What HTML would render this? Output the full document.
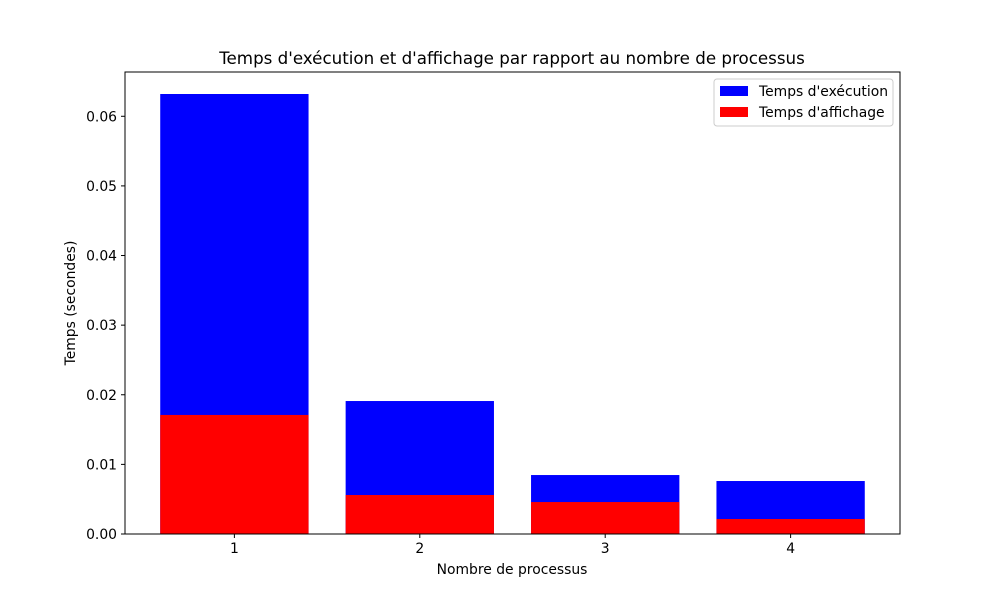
<!DOCTYPE html>
<html><head><meta charset="utf-8"><style>body{margin:0;background:#fff}svg{font-family:"DejaVu Sans","Liberation Sans",sans-serif}</style></head>
<body>
<svg id="chart" width="1000" height="600">
<rect width="1000" height="600" fill="#fff"/>
<text x="512" y="64" font-size="16.7" text-anchor="middle">Temps d'exécution et d'affichage par rapport au nombre de processus</text>
<g id="bars"></g>
<rect x="125" y="72" width="775" height="462" fill="none" stroke="#000" stroke-width="1"/>
<g id="xticks"></g><g id="yticks"></g>
<text x="512" y="574" font-size="13.9" text-anchor="middle">Nombre de processus</text>
<text transform="translate(75,303) rotate(-90)" font-size="13.9" text-anchor="middle">Temps (secondes)</text>
<g>
<rect x="714" y="79" width="179" height="47" fill="#fff" fill-opacity="0.8" stroke="#ccc" rx="3"/>
<g><rect x="720" y="86" width="28" height="10" fill="#0000ff"/><text x="759" y="96" font-size="13.9">Temps d'exécution</text></g>
<g><rect x="720" y="107" width="28" height="10" fill="#ff0000"/><text x="759" y="117" font-size="13.9">Temps d'affichage</text></g>
</g>
</svg>
<script>
const categories=[1,2,3,4];
const execTimes=[0.0632,0.0191,0.00847,0.00761];
const dispTimes=[0.0171,0.0056,0.00459,0.00215];
const yTicks=[0,0.01,0.02,0.03,0.04,0.05,0.06];
const yTickLabels=["0.00","0.01","0.02","0.03","0.04","0.05","0.06"];
const NS="http://www.w3.org/2000/svg";
const L=125,R=900,T=72,B=534,xMin=0.41,xMax=4.59,yMax=0.06636;
const xs=v=>L+(v-xMin)/(xMax-xMin)*(R-L);
const ys=v=>B-v/yMax*(B-T);
function mk(tag,attrs,parent){const e=document.createElementNS(NS,tag);for(const k in attrs)e.setAttribute(k,attrs[k]);parent.appendChild(e);return e;}
const bars=document.getElementById('bars');
const bw=0.8*(R-L)/(xMax-xMin);
categories.forEach((c,i)=>{
 let r=mk('rect',{x:xs(c)-bw/2,y:ys(execTimes[i]),width:bw,height:B-ys(execTimes[i]),fill:'#0000ff'},bars);
 
 
 r=mk('rect',{x:xs(c)-bw/2,y:ys(dispTimes[i]),width:bw,height:B-ys(dispTimes[i]),fill:'#ff0000'},bars);
 
 
});
const xt=document.getElementById('xticks');
categories.forEach(c=>{
 mk('line',{x1:xs(c),x2:xs(c),y1:B,y2:B+4,stroke:'#000'},xt);
 const t=mk('text',{x:xs(c),y:B+19,'font-size':13.9,'text-anchor':'middle'},xt);t.textContent=c;
 
 
});
const yt=document.getElementById('yticks');
yTicks.forEach((v,i)=>{
 mk('line',{x1:L-4,x2:L,y1:ys(v),y2:ys(v),stroke:'#000'},yt);
 const t=mk('text',{x:L-8,y:ys(v)+5,'font-size':13.9,'text-anchor':'end'},yt);t.textContent=yTickLabels[i];
 
 
});
</script>
</body></html>
